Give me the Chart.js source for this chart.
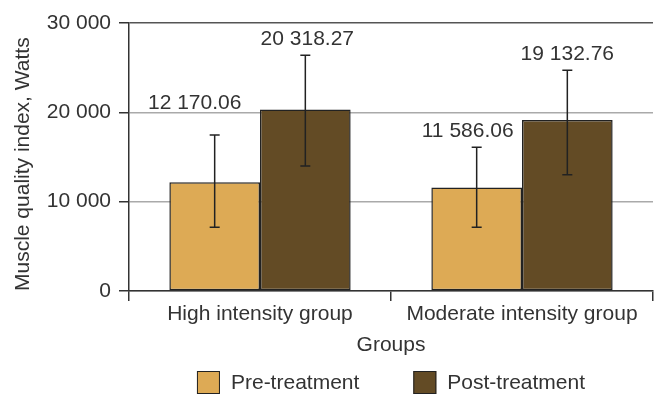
<!DOCTYPE html>
<html>
<head>
<meta charset="utf-8">
<script src="https://cdn.jsdelivr.net/npm/chart.js@4"></script>
<style>
  html, body { margin: 0; padding: 0; background: #fff; }
  #wrap { width: 654px; height: 395px; }
</style>
</head>
<body>
<div id="wrap"><canvas id="myChart" width="654" height="395"></canvas></div>
<script>
// values
const categories = ['High intensity group', 'Moderate intensity group'];
const seriesNames = ['Pre-treatment', 'Post-treatment'];
const preValues = [12170.06, 11586.06];
const postValues = [20318.27, 19132.76];
// error bar ends
const preLow = [7150, 7150];
const preHigh = [17450, 16100];
const postLow = [14000, 13000];
const postHigh = [26400, 24700];
const yTicks = [0, 10000, 20000, 30000];

const font = 'Liberation Sans, Arial, sans-serif';
const fontSize = 21;
const textColor = '#333';

// put a space between thousands, like "30 000"
const spaced = (v, digits) => {
  const parts = v.toFixed(digits).split('.');
  parts[0] = parts[0].replace(/\B(?=(\d{3})+(?!\d))/g, ' ');
  return parts.join('.');
};

const errorBars = {
  id: 'errorBars',
  afterDatasetsDraw(chart, args, opts) {
    const ctx = chart.ctx;
    const y = chart.scales.y;
    const lows = [preLow, postLow];
    const highs = [preHigh, postHigh];
    chart.data.datasets.forEach((ds, di) => {
      const meta = chart.getDatasetMeta(di);
      meta.data.forEach((bar, i) => {
        const yLo = y.getPixelForValue(lows[di][i]);
        const yHi = y.getPixelForValue(highs[di][i]);
        ctx.save();
        ctx.strokeStyle = '#222';
        ctx.lineWidth = 1.5;
        ctx.beginPath();
        ctx.moveTo(bar.x, yLo);
        ctx.lineTo(bar.x, yHi);
        ctx.moveTo(bar.x - 5, yLo);
        ctx.lineTo(bar.x + 5, yLo);
        ctx.moveTo(bar.x - 5, yHi);
        ctx.lineTo(bar.x + 5, yHi);
        ctx.stroke();

        // value label above the error bar
        const nudge = opts.nudge[di][i];
        ctx.fillStyle = textColor;
        ctx.font = fontSize + 'px ' + font;
        ctx.textAlign = 'center';
        ctx.textBaseline = 'alphabetic';
        ctx.fillText(spaced(ds.data[i], 2), bar.x + nudge[0], yHi - 10 + nudge[1]);
        ctx.restore();
      });
    });
  }
};

// legend drawn under the axis title
const bottomLegend = {
  id: 'bottomLegend',
  afterDraw(chart) {
    const ctx = chart.ctx;
    const area = chart.chartArea;
    ctx.save();
    ctx.font = fontSize + 'px ' + font;
    const box = 23, gap = 11, between = 54;
    const widths = chart.data.datasets.map(ds => box + gap + ctx.measureText(ds.label).width);
    const total = widths.reduce((a, b) => a + b, 0) + between * (widths.length - 1);
    let x = (area.left + area.right) / 2 - total / 2;
    const top = 371;
    chart.data.datasets.forEach((ds, i) => {
      ctx.fillStyle = ds.backgroundColor;
      ctx.fillRect(x, top, box, box);
      ctx.strokeStyle = '#222';
      ctx.lineWidth = 1;
      ctx.strokeRect(x + 0.5, top + 0.5, box - 1, box - 1);
      ctx.fillStyle = textColor;
      ctx.textAlign = 'left';
      ctx.textBaseline = 'middle';
      ctx.fillText(ds.label, x + box + gap, top + box / 2 + 1);
      x += widths[i] + between;
    });
    ctx.restore();
  }
};

const data = {
  labels: categories,
  datasets: [{
    label: seriesNames[0],
    data: preValues,
    backgroundColor: '#DDAA55',
    borderColor: '#222',
    borderWidth: 1.5,
    borderSkipped: false
  }, {
    label: seriesNames[1],
    data: postValues,
    backgroundColor: '#634B25',
    borderColor: '#222',
    borderWidth: 1.5,
    borderSkipped: false
  }]
};

const config = {
  type: 'bar',
  data,
  options: {
    responsive: false,
    animation: false,
    devicePixelRatio: 1,
    categoryPercentage: 0.692,
    barPercentage: 1,
    layout: { padding: { top: 23, right: 1, bottom: 30, left: 0 } },
    plugins: {
      legend: { display: false },
      tooltip: { enabled: false },
      errorBars: { nudge: [[[-20, -16], [-9, 0]], [[2, 0], [0, 0]]] }
    },
    scales: {
      x: {
        grid: {
          drawOnChartArea: false,
          tickLength: 10,
          color: '#333',
          lineWidth: 1.5
        },
        border: { color: '#333', width: 1.5 },
        ticks: { color: textColor, font: { family: font, size: fontSize }, padding: 1 },
        title: {
          display: true,
          text: 'Groups',
          color: textColor,
          font: { family: font, size: fontSize },
          padding: { top: 4, bottom: 7 }
        },
        afterFit(scale) { scale.height = 74; }
      },
      y: {
        min: 0,
        max: 30000,
        afterBuildTicks(scale) { scale.ticks = yTicks.map(v => ({ value: v })); },
        grid: {
          tickLength: 10,
          color: c => (c.tick && c.tick.value === 30000) ? '#555' : '#aaa',
          tickColor: '#333',
          lineWidth: 1.5
        },
        border: { color: '#333', width: 1.5 },
        ticks: {
          color: textColor,
          font: { family: font, size: fontSize },
          padding: 8,
          callback: v => spaced(v, 0)
        },
        title: {
          display: true,
          align: 'start',
          text: 'Muscle quality index, Watts',
          color: textColor,
          font: { family: font, size: fontSize },
          padding: { top: 11, bottom: 4 }
        },
        afterFit(scale) { scale.width = 129; }
      }
    }
  },
  plugins: [errorBars, bottomLegend]
};

const myChart = new Chart(document.getElementById('myChart'), config);
</script>
</body>
</html>
